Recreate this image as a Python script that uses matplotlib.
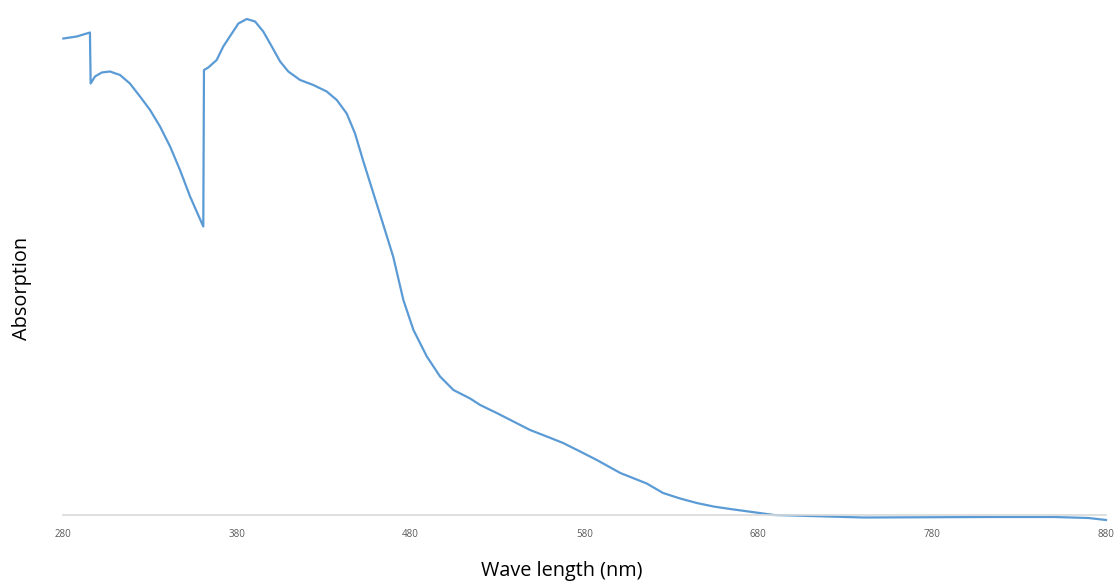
import numpy as np
import matplotlib.pyplot as plt

# Absorption spectrum (arbitrary units)
wavelength = [280.2, 287.9, 295.5, 295.9, 298.4, 302.3, 307.0, 312.8, 318.5, 324.3,
              330.1, 335.8, 341.6, 347.3, 353.1, 360.7, 361.1, 363.6, 368.4, 372.2,
              377.1, 380.9, 385.7, 390.5, 395.2, 400.1, 404.9, 409.6, 416.4, 424.0,
              431.7, 437.5, 443.2, 448.0, 452.8, 458.5, 464.3, 470.0, 475.8, 481.6,
              489.3, 496.9, 504.6, 514.2, 520.0, 529.5, 539.1, 548.7, 558.3, 567.7,
              577.5, 587.1, 600.6, 615.8, 625.2, 635.0, 644.6, 654.2, 663.8, 689.1,
              740.6, 812.6, 850.0, 870.0, 880.0]
absorption = [0.953, 0.957, 0.965, 0.863, 0.877, 0.885, 0.887, 0.880, 0.863, 0.837,
              0.810, 0.777, 0.737, 0.690, 0.637, 0.577, 0.890, 0.895, 0.910, 0.937,
              0.963, 0.983, 0.992, 0.987, 0.967, 0.937, 0.907, 0.887, 0.870, 0.860,
              0.847, 0.830, 0.803, 0.763, 0.707, 0.644, 0.580, 0.516, 0.430, 0.370,
              0.317, 0.277, 0.250, 0.233, 0.220, 0.204, 0.187, 0.170, 0.157, 0.144,
              0.127, 0.110, 0.084, 0.063, 0.044, 0.033, 0.024, 0.017, 0.012, 0.000,
              -0.005, -0.004, -0.004, -0.006, -0.010]
xticks = [280, 380, 480, 580, 680, 780, 880]

plt.rcParams['font.family'] = ['Open Sans', 'DejaVu Sans']

fig = plt.figure(figsize=(11.2, 5.86), dpi=100)
ax = fig.add_axes([63 / 1120, 71 / 586, 1043 / 1120, 500 / 586])

ax.plot(wavelength, absorption, color='#5B9BD5', linewidth=1.6, clip_on=False)

ax.set_xlim(280, 880)
ax.set_ylim(0, 1.0)
ax.set_xticks(xticks)
ax.set_xticklabels([str(t) for t in xticks], fontsize=7, color='#595959')
ax.set_yticks([])
ax.tick_params(axis='x', length=0, pad=10)

for side in ['top', 'right', 'left']:
    ax.spines[side].set_visible(False)
ax.spines['bottom'].set_color('#d9d9d9')
ax.spines['bottom'].set_linewidth(1.2)

fig.text(22 / 1120, 1 - 288 / 586, 'Absorption', rotation=90,
         ha='center', va='center', fontsize=14.3)
fig.text(562 / 1120, 1 - 571 / 586, 'Wave length (nm)',
         ha='center', va='center', fontsize=14.3)

fig.savefig('out.png', dpi=100)
